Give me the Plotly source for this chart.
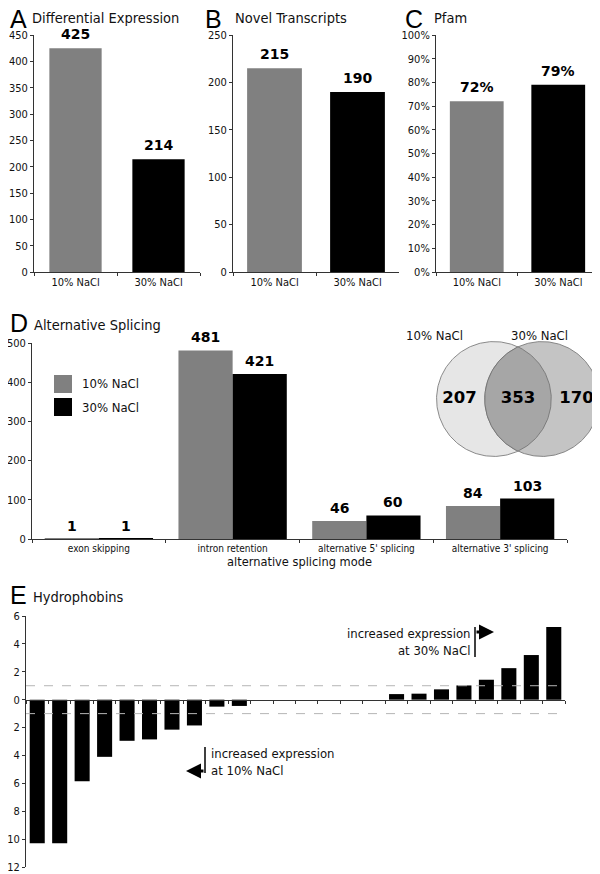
import numpy as np
import plotly.graph_objects as go

# ---------------- data ----------------
conditions = ["10% NaCl", "30% NaCl"]
diff_expr = [425, 214]
novel_tx = [215, 190]
pfam_frac = [0.72, 0.79]

splice_modes = ["exon skipping", "intron retention", "alternative 5' splicing", "alternative 3' splicing"]
splice_10 = [1, 481, 46, 84]
splice_30 = [1, 421, 60, 103]

venn_labels = ["10% NaCl", "30% NaCl"]
venn_counts = [207, 353, 170]  # only-10%, shared, only-30%

hydro_ids = [f"H{i}" for i in range(1, 25)]
hydro_fc = [-10.3, -10.3, -5.85, -4.1, -2.95, -2.85, -2.15, -1.85, -0.5, -0.45,
            0, 0, 0, 0, 0, 0,
            0.4, 0.43, 0.74, 1.02, 1.43, 2.26, 3.2, 5.22]
hydro_ticks = [6, 4, 2, 0, -2, -4, -6, -8, -10, -12]

# ---------------- style ----------------
# the page body keeps its default 8px margin: the figure appears shifted by OFF px
OFF = 8
W, H = 600, 874
GRAY = "#808080"
BLACK = "#000000"
NARROW = "DejaVu Sans Condensed, Liberation Sans Narrow, sans-serif"
BOLD = "DejaVu Sans, Arial Black, sans-serif"
LETTER = "Liberation Sans, Arial, sans-serif"


def px(x):
    return (x - OFF) / W


def py(y):
    return 1 - (y - OFF) / H


fig = go.Figure()

# Panel A, B, C
single_panels = [
    ("x", "y", diff_expr, [str(v) for v in diff_expr], 0.63),
    ("x2", "y2", novel_tx, [str(v) for v in novel_tx], 0.66),
    ("x3", "y3", pfam_frac, [f"{round(v*100)}%" for v in pfam_frac], 0.66),
]
for xa, ya, vals, labels, wd in single_panels:
    fig.add_trace(go.Bar(x=conditions, y=vals, xaxis=xa, yaxis=ya,
                         marker=dict(color=[GRAY, BLACK], line=dict(width=0)),
                         width=[wd] * len(vals), showlegend=False, hoverinfo="x+y"))

# Panel D
fig.add_trace(go.Bar(x=splice_modes, y=splice_10, name=conditions[0], xaxis="x4", yaxis="y4",
                     marker=dict(color=GRAY, line=dict(width=0)), showlegend=False))
fig.add_trace(go.Bar(x=splice_modes, y=splice_30, name=conditions[1], xaxis="x4", yaxis="y4",
                     marker=dict(color=BLACK, line=dict(width=0)), showlegend=False))

# Panel E
fig.add_trace(go.Bar(x=hydro_ids, y=hydro_fc, xaxis="x5", yaxis="y5",
                     marker=dict(color=BLACK, line=dict(width=0)), width=0.67, showlegend=False))

# Venn (geometry)
R = 1.0
D = 0.84
t = np.linspace(0, 2 * np.pi, 241)
cxL, cxR = 0.0, D
fig.add_trace(go.Scatter(x=cxL + R * np.cos(t), y=R * np.sin(t), xaxis="x6", yaxis="y6",
                         mode="lines", fill="toself", fillcolor="#e6e6e6",
                         line=dict(color="#6e6e6e", width=0.8), showlegend=False, hoverinfo="skip"))
fig.add_trace(go.Scatter(x=cxR + R * np.cos(t), y=R * np.sin(t), xaxis="x6", yaxis="y6",
                         mode="lines", fill="toself", fillcolor="#c4c4c4",
                         line=dict(color="#6e6e6e", width=0.8), showlegend=False, hoverinfo="skip"))
h = np.sqrt(R ** 2 - (D / 2) ** 2)
a = np.arctan2(h, D / 2)
tR = np.linspace(-a, a, 80)
tL = np.linspace(np.pi - a, np.pi + a, 80)
lx = np.concatenate([cxL + R * np.cos(tR), cxR + R * np.cos(tL)])
ly = np.concatenate([R * np.sin(tR), R * np.sin(tL)])
fig.add_trace(go.Scatter(x=lx, y=ly, xaxis="x6", yaxis="y6", mode="lines", fill="toself",
                         fillcolor="#a6a6a6", line=dict(color="#6e6e6e", width=0.8),
                         showlegend=False, hoverinfo="skip"))
venn_x = [(cxL - R + D - R) / 2 - 0.02, D / 2, (cxL + R + D + R) / 2 + 0.02]
fig.add_trace(go.Scatter(x=venn_x, y=[0, 0, 0], xaxis="x6", yaxis="y6", mode="text",
                         text=[f"<b>{v}</b>" for v in venn_counts], cliponaxis=False,
                         textfont=dict(family=BOLD, size=16.5, color="black"),
                         showlegend=False, hoverinfo="skip"))

axis_common = dict(showline=True, linecolor="#333", linewidth=1, ticks="outside", ticklen=3,
                   tickcolor="#333", showgrid=False, zeroline=False, automargin=False)
ytf = dict(family=NARROW, size=11, color="#111")
xtf = dict(family=NARROW, size=11, color="#111")

layout = dict(
    width=W, height=H, autosize=False,
    margin=dict(l=0, r=0, t=0, b=0, pad=0, autoexpand=False),
    paper_bgcolor="white", plot_bgcolor="white",
    barmode="group", bargap=0.19, bargroupgap=0,
    showlegend=False,
    font=dict(family=NARROW, color="#111"),
)

yA0, yA1 = py(272), py(35)
layout["xaxis"] = dict(domain=[px(34), px(200)], anchor="y", tickson="boundaries", tickfont=xtf, **axis_common)
layout["yaxis"] = dict(domain=[yA0, yA1], anchor="x", range=[0, 450], dtick=50, tickfont=ytf, **axis_common)
layout["xaxis2"] = dict(domain=[px(233), px(399)], anchor="y2", tickson="boundaries", tickfont=xtf, **axis_common)
layout["yaxis2"] = dict(domain=[yA0, yA1], anchor="x2", range=[0, 250], dtick=50, tickfont=ytf, **axis_common)
layout["xaxis3"] = dict(domain=[px(436), px(599)], anchor="y3", tickson="boundaries", tickfont=xtf, **axis_common)
layout["yaxis3"] = dict(domain=[yA0, yA1], anchor="x3", range=[0, 1], dtick=0.1, tickformat=".0%",
                        tickfont=ytf, **axis_common)

layout["xaxis4"] = dict(domain=[px(32), px(567)], anchor="y4", tickson="boundaries",
                        title=dict(text="alternative splicing mode", font=dict(family=NARROW, size=12.7),
                                   standoff=4),
                        tickfont=dict(family=NARROW, size=10, color="#111"), **axis_common)
layout["yaxis4"] = dict(domain=[py(539), py(343)], anchor="x4", range=[0, 500], dtick=100,
                        tickfont=ytf, **axis_common)

yE0, yE1 = py(867), py(616)
layout["xaxis5"] = dict(domain=[px(26), px(565)], anchor="free",
                        position=yE0 + (yE1 - yE0) * 12 / 18, tickson="boundaries",
                        showticklabels=False, **axis_common)
layout["yaxis5"] = dict(domain=[yE0, yE1], anchor="x5", range=[-12, 6],
                        tickvals=hydro_ticks, ticktext=[str(abs(v)) for v in hydro_ticks],
                        tickfont=dict(family=NARROW, size=11, color="#111"), **axis_common)

layout["xaxis6"] = dict(domain=[px(436), px(600)], anchor="y6", range=[-R - 0.01, D + R + 0.01],
                        visible=False, fixedrange=True, automargin=False)
layout["yaxis6"] = dict(domain=[py(457), py(341)], anchor="x6", range=[-R - 0.01, R + 0.01],
                        visible=False, fixedrange=True, automargin=False)

fig.update_layout(**layout)

ann = []
# panel letters and titles: (letter, title, letter x, title x, letter centre y, title centre y)
titles = [("A", "Differential Expression", 8, 30, 19, 18),
          ("B", "Novel Transcripts", 203, 233, 19, 18),
          ("C", "Pfam", 403, 432, 19, 18),
          ("D", "Alternative Splicing", 8, 32, 323, 325),
          ("E", "Hydrophobins", 8, 31, 595, 597)]
for letter, title, lx_, tx_, ly_, ty_ in titles:
    ann.append(dict(text=letter, x=px(lx_), y=py(ly_), xref="paper", yref="paper",
                    xanchor="left", yanchor="middle", showarrow=False,
                    font=dict(family=LETTER, size=25, color="black")))
    ann.append(dict(text=title, x=px(tx_), y=py(ty_), xref="paper", yref="paper",
                    xanchor="left", yanchor="middle", showarrow=False,
                    font=dict(family=NARROW, size=14.5, color="#111")))

# value labels on bars
for xa, ya, vals, labels, wd in single_panels:
    for c, v, lab in zip(conditions, vals, labels):
        ann.append(dict(text=f"<b>{lab}</b>", x=c, y=v, xref=xa, yref=ya, yanchor="middle",
                        yshift=14, showarrow=False, font=dict(family=BOLD, size=14, color="black")))
half = (1 - 0.19) / 4  # centre offset of each bar within its group
for i in range(len(splice_modes)):
    for v, off in ((splice_10[i], -half), (splice_30[i], half)):
        ann.append(dict(text=f"<b>{v}</b>", x=i + off, y=v, xref="x4", yref="y4", yanchor="middle",
                        yshift=13, showarrow=False, font=dict(family=BOLD, size=14, color="black")))

# legend for D (manual)
for j, (nm, col) in enumerate(zip(conditions, [GRAY, BLACK])):
    y0 = 375 + j * 23
    fig.add_shape(type="rect", xref="paper", yref="paper", x0=px(54), x1=px(72), y0=py(y0), y1=py(y0 + 18),
                  fillcolor=col, line=dict(width=0))
    ann.append(dict(text=nm, x=px(80), y=py(y0 + 9), xref="paper", yref="paper", xanchor="left",
                    yanchor="middle", showarrow=False, font=dict(family=NARROW, size=13, color="#111")))

# Venn labels
ann.append(dict(text=venn_labels[0], x=px(465), y=py(335), xref="paper", yref="paper", showarrow=False,
                font=dict(family=NARROW, size=13, color="#111")))
ann.append(dict(text=venn_labels[1], x=px(570), y=py(335), xref="paper", yref="paper", showarrow=False,
                font=dict(family=NARROW, size=13, color="#111")))

# Panel E threshold lines
for yv in (1, -1):
    fig.add_shape(type="line", xref="x5 domain", yref="y5", x0=0, x1=1, y0=yv, y1=yv,
                  line=dict(color="#b5b5b5", width=1, dash="dash"))

# Panel E annotations with flag arrows
ann.append(dict(text="increased expression<br>at 30% NaCl", x=px(472), y=py(642), xref="paper", yref="paper",
                xanchor="right", yanchor="middle", align="right", showarrow=False,
                font=dict(family=NARROW, size=13, color="#111")))
fig.add_shape(type="line", xref="paper", yref="paper", x0=px(475), x1=px(475), y0=py(627), y1=py(657),
              line=dict(color="black", width=1.5))
ann.append(dict(text="", x=px(494), y=py(632), xref="paper", yref="paper", ax=-19, ay=0,
                showarrow=True, arrowhead=2, arrowsize=1, arrowwidth=3, arrowcolor="black"))

ann.append(dict(text="increased expression<br>at 10% NaCl", x=px(209), y=py(762), xref="paper", yref="paper",
                xanchor="left", yanchor="middle", align="left", showarrow=False,
                font=dict(family=NARROW, size=13, color="#111")))
fig.add_shape(type="line", xref="paper", yref="paper", x0=px(205), x1=px(205), y0=py(747), y1=py(773),
              line=dict(color="black", width=1.5))
ann.append(dict(text="", x=px(186), y=py(771), xref="paper", yref="paper", ax=19, ay=0,
                showarrow=True, arrowhead=2, arrowsize=1, arrowwidth=3, arrowcolor="black"))

fig.update_layout(annotations=ann)
fig.write_html("out.html")
